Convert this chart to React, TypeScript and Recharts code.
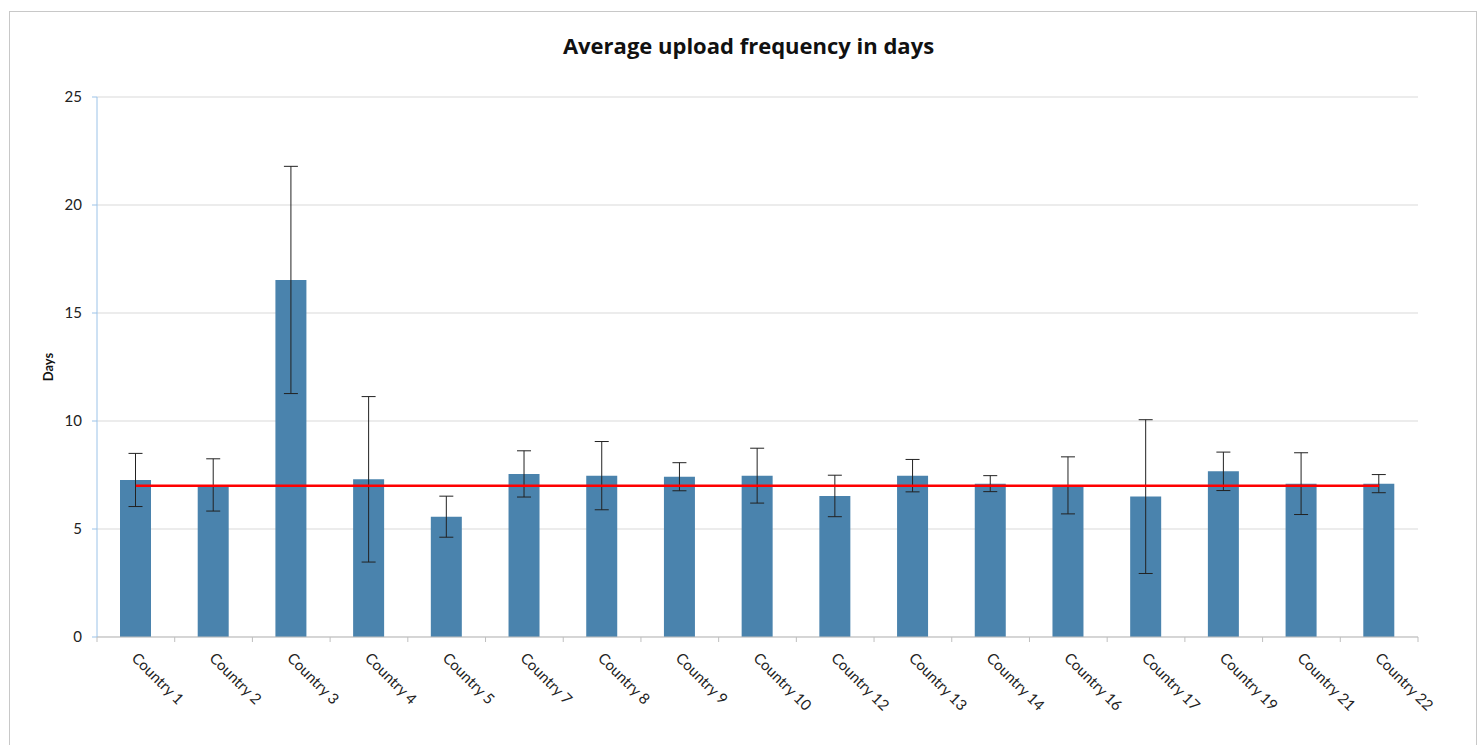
import React from 'react'
import { ComposedChart, Bar, ErrorBar, XAxis, YAxis, CartesianGrid, ReferenceLine } from 'recharts'

const categories = [
  'Country 1', 'Country 2', 'Country 3', 'Country 4', 'Country 5', 'Country 7', 'Country 8', 'Country 9',
  'Country 10', 'Country 12', 'Country 13', 'Country 14', 'Country 16', 'Country 17', 'Country 19', 'Country 21', 'Country 22',
]
const meanDays = [7.27, 7.04, 16.53, 7.3, 5.57, 7.55, 7.47, 7.42, 7.47, 6.53, 7.47, 7.1, 7.02, 6.5, 7.67, 7.1, 7.1]
const errDays = [1.23, 1.21, 5.26, 3.83, 0.95, 1.07, 1.58, 0.65, 1.27, 0.96, 0.75, 0.37, 1.32, 3.56, 0.89, 1.43, 0.42]
const yTicks = [0, 5, 10, 15, 20, 25]
const targetDays = 7

const chartData = categories.map((name, i) => ({ name, days: meanDays[i], err: errDays[i] }))

const W = 1478
const H = 745
const PLOT_LEFT = 97
const PLOT_RIGHT = 1418
const PLOT_BOTTOM = 637
const BAND = (PLOT_RIGHT - PLOT_LEFT) / categories.length
const FONT = 'Lato, "Open Sans", sans-serif'

const CountryTick = (props: any) => {
  const { x, payload, index } = props
  const half = BAND / 2
  return (
    <g>
      <line x1={x - half} x2={x - half} y1={PLOT_BOTTOM} y2={PLOT_BOTTOM + 5} stroke='#bfbfbf' />
      {index === categories.length - 1 && (
        <line x1={x + half} x2={x + half} y1={PLOT_BOTTOM} y2={PLOT_BOTTOM + 5} stroke='#bfbfbf' />
      )}
      <text
        transform={`translate(${x - 5},${PLOT_BOTTOM + 22}) rotate(45)`}
        fontSize={15}
        fontFamily={FONT}
        fill='#222'
        textAnchor='start'
      >
        {payload.value}
      </text>
    </g>
  )
}

export default function App() {
  return (
    <div style={{ position: 'absolute', left: 0, top: 0, width: W, height: H, overflow: 'hidden', background: '#fff', fontFamily: FONT }}>
      <div style={{ position: 'absolute', left: 9, top: 11, width: 1466, height: 760, border: '1px solid #c8c8c8', borderBottom: 'none' }} />
      <div
        style={{
          position: 'absolute', left: 0, width: 1497, top: 30, lineHeight: '30px', textAlign: 'center',
          fontSize: 22, fontWeight: 700, color: '#111', fontFamily: '"Open Sans", sans-serif',
        }}
      >
        Average upload frequency in days
      </div>
      <div style={{ position: 'absolute', left: 0, top: 0 }}>
        <ComposedChart width={W} height={H} data={chartData} margin={{ top: 97, right: W - PLOT_RIGHT, left: 0, bottom: 0 }}>
          <CartesianGrid vertical={false} stroke='#d9d9d9' />
          <XAxis
            dataKey='name'
            interval={0}
            height={H - PLOT_BOTTOM}
            tickLine={false}
            axisLine={{ stroke: '#bfbfbf' }}
            tick={<CountryTick />}
          />
          <YAxis
            width={PLOT_LEFT}
            domain={[0, 25]}
            ticks={yTicks}
            tickSize={5}
            tickMargin={10}
            axisLine={{ stroke: '#9cc3e8' }}
            tickLine={{ stroke: '#9cc3e8' }}
            tick={{ fontSize: 15, fill: '#222', fontFamily: FONT }}
            label={{ value: 'Days', angle: -90, position: 'center', fontSize: 13, fontWeight: 700, fill: '#111', fontFamily: FONT }}
          />
          <Bar dataKey='days' fill='#4a83ad' barSize={31} isAnimationActive={false}>
            <ErrorBar dataKey='err' width={7} stroke='#222' strokeWidth={1} direction='y' isAnimationActive={false} />
          </Bar>
          <ReferenceLine
            segment={[{ x: categories[0], y: targetDays }, { x: categories[categories.length - 1], y: targetDays }]}
            stroke='#ff0000'
            strokeWidth={2.5}
          />
        </ComposedChart>
      </div>
    </div>
  )
}
